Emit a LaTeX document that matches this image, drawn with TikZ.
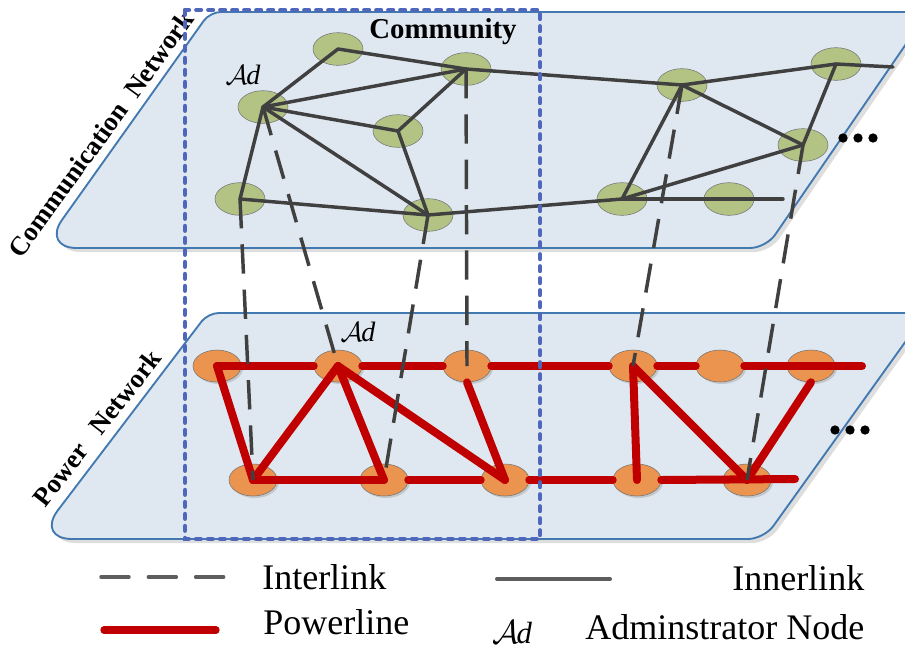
\documentclass[tikz,border=0pt]{standalone}
\usepackage{fontspec}
\setmainfont{Liberation Serif}
\usetikzlibrary{shapes.geometric,shadows}
\definecolor{layerfill}{HTML}{DFE7F0}
\definecolor{layerline}{HTML}{4279B0}
\definecolor{commblue}{HTML}{4F67BA}
\definecolor{greenfill}{HTML}{B3C384}
\definecolor{orangefill}{HTML}{EA944F}
\definecolor{linkgray}{HTML}{404040}
\definecolor{powerred}{HTML}{C00000}
\begin{document}
\begin{tikzpicture}[x=0.75pt,y=-0.75pt,
  layer/.style={fill=layerfill,draw=layerline,line width=1.4pt},
  layershadow/.style={fill=black!13},
  cnode/.style={ellipse,fill=greenfill,draw=black!55,line width=0.4pt,minimum width=37.5pt,minimum height=24.5pt,inner sep=0pt},
  pnode/.style={ellipse,fill=orangefill,draw=black!55,line width=0.4pt,minimum width=36pt,minimum height=24pt,inner sep=0pt,
     drop shadow={shadow xshift=1.5pt,shadow yshift=-1.5pt,fill=black!30,opacity=0.6}},
  inner/.style={draw=linkgray,line width=2.6pt,line cap=round,line join=round},
  inter/.style={draw=linkgray,line width=2.6pt,dash pattern=on 22pt off 12pt},
  power/.style={draw=powerred,line width=6pt,line cap=round,line join=round},
  commbox/.style={draw=commblue,line width=3.3pt,line cap=round,dash pattern=on 3.5pt off 5.5pt},
  dotn/.style={circle,fill=black,inner sep=0pt,minimum size=7pt},
  adlabel/.style={inner sep=0pt,font=\fontsize{21}{24}\selectfont},
  adleglabel/.style={inner sep=0pt,font=\fontsize{23}{26}\selectfont},
  legtext/.style={inner sep=0pt,font=\fontsize{27}{30}\selectfont},
  netlabel/.style={inner sep=0pt,font=\fontsize{20}{24}\selectfont\bfseries}
]
\clip (0,0) rectangle (905,650);
\fill[white] (0,0) rectangle (905,650);

% layers
\fill[layershadow] (214,16) [rounded corners=8pt] -- (932,16) [rounded corners=12pt] -- (770,252) [rounded corners=26pt] -- (46,252) [rounded corners=8pt] -- cycle;
\draw[layer] (210,12) [rounded corners=8pt] -- (928,12) [rounded corners=12pt] -- (766,248) [rounded corners=26pt] -- (42,248) [rounded corners=8pt] -- cycle;
\fill[layershadow] (212,317) [rounded corners=8pt] -- (930,317) [rounded corners=12pt] -- (768,543) [rounded corners=27pt] -- (40,543) [rounded corners=8pt] -- cycle;
\draw[layer] (208,313) [rounded corners=8pt] -- (926,313) [rounded corners=12pt] -- (764,539) [rounded corners=27pt] -- (36,539) [rounded corners=8pt] -- cycle;

% labels
\node[netlabel,rotate=54] (commlab) at (101,134) {Communication\hspace{10pt}Network};
\node[netlabel,rotate=52] (powlab) at (97,428) {Power\hspace{14pt}Network};
\node[inner sep=0pt,font=\fontsize{21.6}{24}\selectfont\bfseries] (commtxt) at (443,32) {Community};

% communication nodes
\node[cnode] (A) at (338,49) {};
\node[cnode] (B) at (263,107) {};
\node[cnode] (C) at (398,131) {};
\node[cnode] (D) at (240,199) {};
\node[cnode] (E) at (428,215) {};
\node[cnode] (F) at (466,69) {};
\node[cnode] (G) at (682,85) {};
\node[cnode] (H) at (836,64) {};
\node[cnode] (I) at (803,145) {};
\node[cnode] (J) at (622,199) {};
\node[cnode] (K) at (729,199) {};
\coordinate (Hend) at (893,67);
\coordinate (Kend) at (783,199);

% power nodes
\node[pnode] (Q1) at (217,366) {};
\node[pnode] (Q2) at (338,366) {};
\node[pnode] (Q3) at (467,366) {};
\node[pnode] (Q4) at (633,366) {};
\node[pnode] (Q5) at (720,366) {};
\node[pnode] (Q6) at (811,366) {};
\node[pnode] (R1) at (253,480) {};
\node[pnode] (R2) at (384,480) {};
\node[pnode] (R3) at (505,480) {};
\node[pnode] (R4) at (637,480) {};
\node[pnode] (R5) at (747,480) {};
\coordinate (Q6end) at (862,366);
\coordinate (R5end) at (795,479);

% innerlinks
\draw[inner] (A.center) -- (B.center);
\draw[inner] (A.center) -- (F.center);
\draw[inner] (B.center) -- (F.center);
\draw[inner] (B.center) -- (C.center);
\draw[inner] (B.center) -- (D.center);
\draw[inner] (B.center) -- (E.center);
\draw[inner] (C.center) -- (F.center);
\draw[inner] (C.center) -- (E.center);
\draw[inner] (D.center) -- (E.center);
\draw[inner] (E.center) -- (J.center);
\draw[inner] (F.center) -- (G.center);
\draw[inner] (G.center) -- (H.center);
\draw[inner] (H.center) -- (Hend);
\draw[inner] (G.center) -- (J.center);
\draw[inner] (G.center) -- (I.center);
\draw[inner] (I.center) -- (J.center);
\draw[inner] (I.center) -- (H.center);
\draw[inner] (J.center) -- (Kend);

% powerlines
\draw[power] (Q1.center) -- (Q2.west);
\draw[power] (Q2.east) -- (Q3.west);
\draw[power] (Q3.east) -- (Q4.west);
\draw[power] (Q4.east) -- (Q5.west);
\draw[power] (Q5.east) -- (Q6end);
\draw[power] (R1.center) -- (R2.center);
\draw[power] (R2.east) -- (R3.west);
\draw[power] (R3.east) -- (R4.west);
\draw[power] (R4.east) -- (R5end);
\draw[power] (Q1.center) -- (R1.center);
\draw[power] (Q2.center) -- (R1.center);
\draw[power] (Q2.center) -- (R2.center);
\draw[power] (Q2.center) -- (R3.center);
\draw[power] (Q3.south) -- (R3.center);
\draw[power] (Q4.center) -- (R4.center);
\draw[power] (Q4.center) -- (R5.center);
\draw[power] (Q6.south) -- (R5.center);

% interlinks
\draw[inter] (D.center) -- (R1.center);
\draw[inter] (B.center) -- (Q2.center);
\draw[inter] (E.center) -- (R2.center);
\draw[inter] (F.center) -- (Q3.center);
\draw[inter] (G.center) -- (Q4.center);
\draw[inter] (I.center) -- (R5.center);

% administrator labels
\node[adlabel] (adtop) at (243,75) {$\mathcal{A}\mkern-1mu\mathit{d}$};
\node[adlabel] (adbot) at (358,332) {$\mathcal{A}\mkern-1mu\mathit{d}$};

% ellipsis dots
\node[dotn] (td1) at (843,138) {};
\node[dotn] (td2) at (858,138) {};
\node[dotn] (td3) at (873,138) {};
\node[dotn] (bd1) at (835,430) {};
\node[dotn] (bd2) at (850,430) {};
\node[dotn] (bd3) at (865,430) {};

% community box
\draw[commbox] (185,10) rectangle (540,539);

% legend
\coordinate (l1a) at (101,577);
\coordinate (l1b) at (227,577);
\draw[draw=linkgray!85,line width=2.6pt,line cap=round,dash pattern=on 21pt off 14.5pt] (l1a) -- (l1b);
\node[legtext,anchor=base west] (tinter) at (262,589) {Interlink};
\coordinate (l2a) at (497,579);
\coordinate (l2b) at (610,579);
\draw[draw=linkgray!85,line width=3pt,line cap=round] (l2a) -- (l2b);
\node[legtext,anchor=base west] (tinner) at (732,590) {Innerlink};
\coordinate (l3a) at (104,630);
\coordinate (l3b) at (216,630);
\draw[power,line width=5.5pt] (l3a) -- (l3b);
\node[legtext,anchor=base west] (tpower) at (263,634) {Powerline};
\node[adleglabel] (adleg) at (512,632) {$\mathcal{A}\mkern-1mu\mathit{d}$};
\node[legtext,anchor=base west] (tadmin) at (585,639) {Adminstrator Node};
\end{tikzpicture}
\end{document}
